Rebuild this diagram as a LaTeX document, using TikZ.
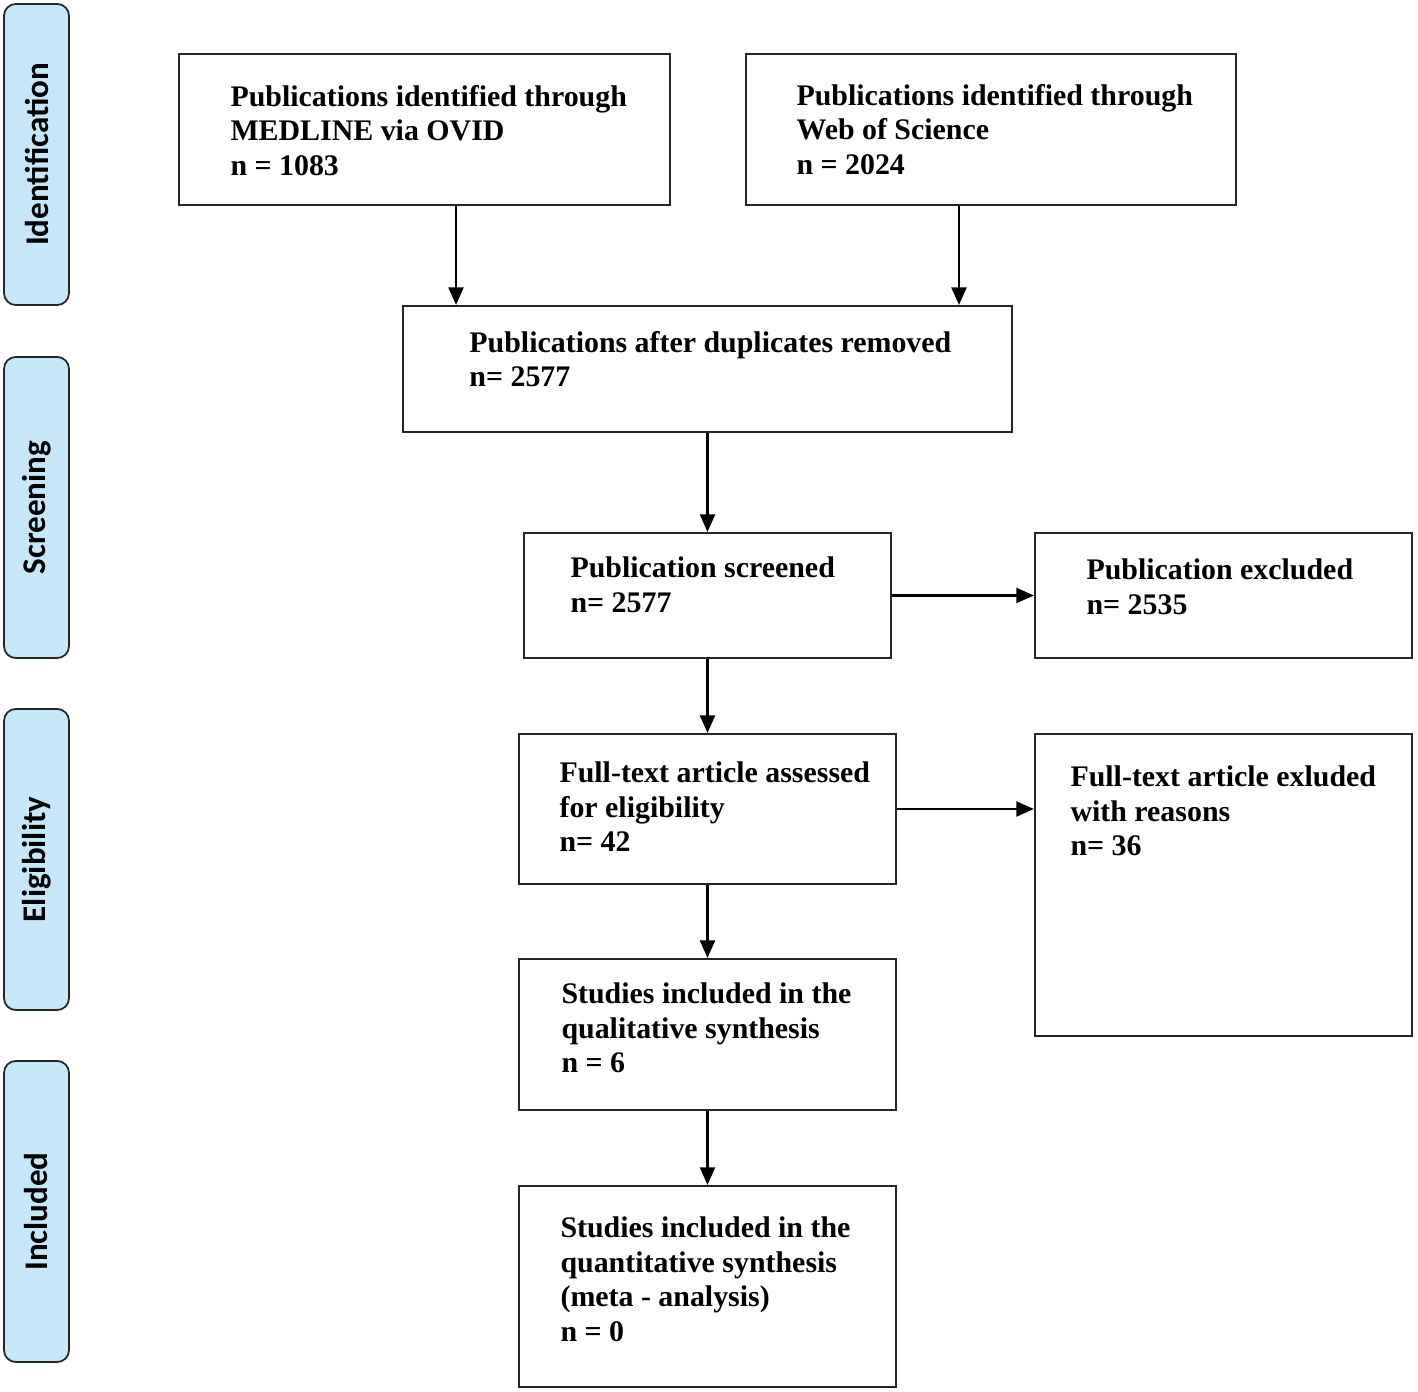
\documentclass[tikz,border=0pt]{standalone}
\usepackage{fontspec}
\setmainfont{Liberation Serif}
\newfontfamily\stagefont{Carlito}
\usetikzlibrary{calc, arrows.meta}
\definecolor{stageblue}{HTML}{C6E7F9}
\tikzstyle{stage} = [draw=black!85,line width=0.5pt,rounded corners=0.12cm,fill=stageblue,minimum width=3.01cm,minimum height=0.65cm,inner sep=0pt,rotate=90,font=\stagefont\bfseries\fontsize{9.4}{10}\selectfont]
\tikzstyle{flowbox} = [draw=black!85,line width=0.6pt,inner sep=0pt]
\tikzstyle{boxtext} = [anchor=north west,inner sep=0pt,align=left,font=\fontsize{8.5}{9.8}\selectfont\bfseries]
\tikzstyle{flowarrow} = [line width=0.6pt,-{Triangle[length=5pt,width=4.3pt]}]

\begin{document}
\begin{tikzpicture}[x=0.01cm,y=-0.01cm]
			\useasboundingbox (0,0) rectangle (1418,1392);
			
			\node[stage] (ident) at (36.5,154.5) {Identification};
			\node[stage] (screen) at (36.5,507.5) {Screening};
			\node[stage] (elig) at (36.5,859.5) {Eligibility};
			\node[stage] (incl) at (36.5,1211.5) {Included};
			
			\node[flowbox,minimum width=4.91cm,minimum height=1.51cm] (medline) at (424.5,129.5) {};
			\node[flowbox,minimum width=4.90cm,minimum height=1.51cm] (wos) at (991,129.5) {};
			\node[flowbox,minimum width=6.09cm,minimum height=1.26cm] (dup) at (707.5,369) {};
			\node[flowbox,minimum width=3.67cm,minimum height=1.25cm] (screened) at (707.5,595.5) {};
			\node[flowbox,minimum width=3.77cm,minimum height=1.25cm] (excl) at (1223.5,595.5) {};
			\node[flowbox,minimum width=3.77cm,minimum height=1.50cm] (full) at (707.5,809) {};
			\node[flowbox,minimum width=3.77cm,minimum height=3.02cm] (fullexcl) at (1223.5,885) {};
			\node[flowbox,minimum width=3.77cm,minimum height=1.51cm] (qual) at (707.5,1034.5) {};
			\node[flowbox,minimum width=3.77cm,minimum height=2.01cm] (quant) at (707.5,1286.5) {};
			
			\node[boxtext] (medline-t) at ($(medline.north west)+(52,31.5)$) {Publications identified through\\MEDLINE via OVID\\n = 1083};
			\node[boxtext] (wos-t) at ($(wos.north west)+(51,30.5)$) {Publications identified through\\Web of Science\\n = 2024};
			\node[boxtext] (dup-t) at ($(dup.north west)+(67,25.5)$) {Publications after duplicates removed\\n= 2577};
			\node[boxtext] (screened-t) at ($(screened.north west)+(47,24.5)$) {Publication screened\\n= 2577};
			\node[boxtext] (excl-t) at ($(excl.north west)+(52,26.5)$) {Publication excluded\\n= 2535};
			\node[boxtext] (full-t) at ($(full.north west)+(41,28.5)$) {Full-text article assessed\\for eligibility\\n= 42};
			\node[boxtext] (fullexcl-t) at ($(fullexcl.north west)+(36,32.5)$) {Full-text article exluded\\with reasons\\n= 36};
			\node[boxtext] (qual-t) at ($(qual.north west)+(43,24.5)$) {Studies included in the\\qualitative synthesis\\n = 6};
			\node[boxtext] (quant-t) at ($(quant.north west)+(42,31.5)$) {Studies included in the\\quantitative synthesis\\(meta - analysis)\\n = 0};
			
			\draw[flowarrow] ([xshift=3.15mm]medline.south) -- ([xshift=3.15mm]medline.south |- dup.north);
			\draw[flowarrow] ([xshift=-3.2mm]wos.south) -- ([xshift=-3.2mm]wos.south |- dup.north);
			\draw[flowarrow] (dup) -- (screened);
			\draw[flowarrow] (screened) -- (excl);
			\draw[flowarrow] (screened) -- (full);
			\draw[flowarrow] (full.east) -- (full.east -| fullexcl.west);
			\draw[flowarrow] (full) -- (qual);
			\draw[flowarrow] (qual) -- (quant);
		\end{tikzpicture}
\end{document}
